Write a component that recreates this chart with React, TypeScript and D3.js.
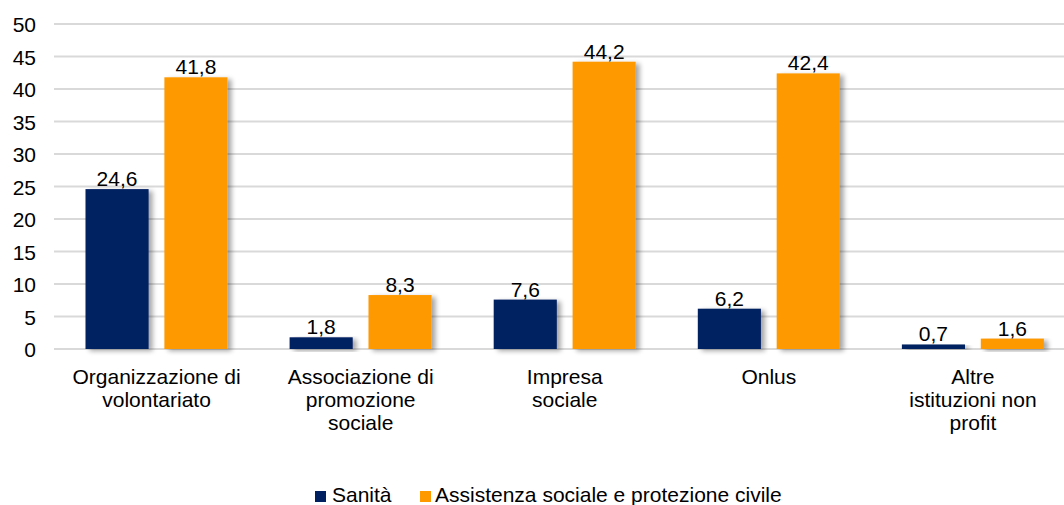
import React from "react";
import * as d3 from "d3";

const categories: string[][] = [
  ["Organizzazione di", "volontariato"],
  ["Associazione di", "promozione", "sociale"],
  ["Impresa", "sociale"],
  ["Onlus"],
  ["Altre", "istituzioni non", "profit"],
];
const seriesNames = ["Sanità", "Assistenza sociale e protezione civile"];
const sanita = [24.6, 1.8, 7.6, 6.2, 0.7];
const assistenza = [41.8, 8.3, 44.2, 42.4, 1.6];
const yTicks = [0, 5, 10, 15, 20, 25, 30, 35, 40, 45, 50];
const colors = ["#002060", "#FF9900"];

const W = 1064;
const H = 505;
const FONT = "'Liberation Sans', Arial, sans-serif";
const FS = 21;

export default function App() {
  const y = d3.scaleLinear().domain([0, 50]).range([349, 24]);
  const x0 = d3
    .scaleBand<number>()
    .domain(d3.range(categories.length))
    .range([54.5, 1075])
    .paddingInner(0)
    .paddingOuter(0);
  const x1 = d3
    .scaleBand<number>()
    .domain([0, 1])
    .range([31, 173])
    .paddingInner(0.2);
  const series = [sanita, assistenza];
  const fmt = (v: number) => v.toFixed(1).replace(".", ",");

  return (
    <svg
      width={W}
      height={H}
      style={{ position: "absolute", left: 0, top: 0, display: "block" }}
      fontFamily={FONT}
    >
      <defs>
        <filter id="sh" x="-20%" y="-20%" width="150%" height="140%">
          <feGaussianBlur in="SourceAlpha" stdDeviation="2.5" />
          <feOffset dx="4" dy="2" result="b" />
          <feComponentTransfer>
            <feFuncA type="linear" slope="0.35" />
          </feComponentTransfer>
          <feMerge>
            <feMergeNode />
            <feMergeNode in="SourceGraphic" />
          </feMerge>
        </filter>
      </defs>
      <rect width={W} height={H} fill="#fff" />
      {yTicks.map((t) => (
        <g key={t}>
          <line x1={54} x2={W} y1={y(t)} y2={y(t)} stroke="#d9d9d9" strokeWidth={2} />
          <text x={36} y={y(t) + 8} textAnchor="end" fontSize={FS} fill="#000">
            {t}
          </text>
        </g>
      ))}
      {categories.map((cat, i) => (
        <g key={i} transform={`translate(${x0(i)},0)`}>
          {series.map((s, j) => (
            <g key={j}>
              <rect
                x={x1(j)}
                y={y(s[i])}
                width={x1.bandwidth()}
                height={y(0) - y(s[i])}
                fill={colors[j]}
                filter="url(#sh)"
              />
              <text
                x={(x1(j) as number) + x1.bandwidth() / 2}
                y={y(s[i]) - 3}
                textAnchor="middle"
                fontSize={FS}
                fill="#000"
              >
                {fmt(s[i])}
              </text>
            </g>
          ))}
          {cat.map((line, k) => (
            <text
              key={k}
              x={x0.bandwidth() / 2}
              y={384 + k * 23}
              textAnchor="middle"
              fontSize={FS}
              fill="#000"
            >
              {line}
            </text>
          ))}
        </g>
      ))}
      <g>
        <rect x={315} y={491} width={11} height={11} fill={colors[0]} />
        <text x={332} y={502} fontSize={FS} fill="#000">
          {seriesNames[0]}
        </text>
        <rect x={420} y={491} width={11} height={11} fill={colors[1]} />
        <text x={435} y={502} fontSize={FS} fill="#000">
          {seriesNames[1]}
        </text>
      </g>
    </svg>
  );
}
